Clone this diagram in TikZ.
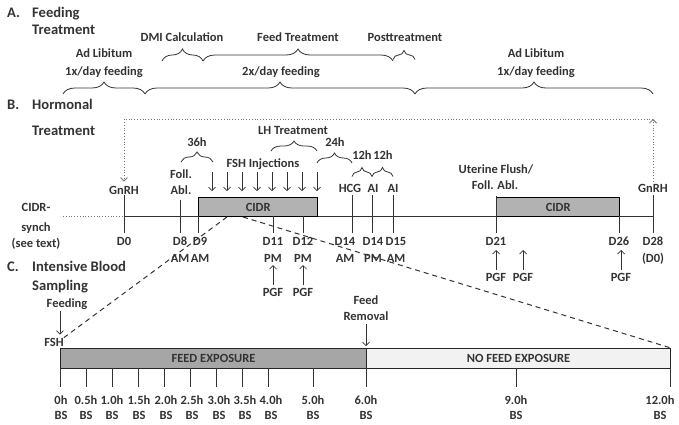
\documentclass[tikz,border=0pt]{standalone}
\usepackage{fontspec}
\setmainfont{Carlito}
\usepackage{tikz}
\usetikzlibrary{arrows.meta, decorations.pathreplacing, calc}

\begin{document}
\begin{tikzpicture}[x=1pt,y=-1pt]
\tikzset{txt/.style={font=\bfseries\fontsize{12.5}{14}\selectfont,text=black!80,inner sep=0pt,anchor=base},
         headtxt/.style={font=\bfseries\fontsize{14.6}{17}\selectfont,text=black!80,inner sep=0pt,anchor=base west},
         bracefeed/.style={decorate,decoration={brace,amplitude=12pt},line width=0.8pt,color=black!80},
         bracehorm/.style={decorate,decoration={brace,amplitude=10pt},line width=0.8pt,color=black!80},
         dayline/.style={line width=0.8pt,color=black!80},
         cidrbox/.style={draw=black,line width=1.4pt,fill=black!30,minimum height=19pt,anchor=north west,
                         inner sep=0pt,font=\bfseries\fontsize{12.5}{14}\selectfont,text=black!80},
         barbox/.style={draw=black!85,line width=1pt,minimum height=20pt,anchor=north west,
                        inner sep=0pt,font=\bfseries\fontsize{12.5}{14}\selectfont,text=black!80},
         injarrow/.style={-{Straight Barb[length=3.5pt,width=7pt]},line width=0.7pt,color=black!80},
         loopline/.style={dotted,line width=0.8pt,color=black!55},
         zoomline/.style={line width=1pt,color=black!80,dash pattern=on 5pt off 4pt}}
\useasboundingbox (0,0) rectangle (679,424);
% A. Feeding treatment
\node[headtxt] (hA) at (7,17) {A.};
\node[headtxt] (hAa) at (32,17) {Feeding};
\node[headtxt] (hAb) at (32,34) {Treatment};
% upper braces
\draw[bracefeed] (162,61) -- (203,61);
\draw[bracefeed] (203,61) -- (393,61);
\draw[bracefeed,decoration={amplitude=9pt}] (393,59.5) -- (415,59.5);
\node[txt] (dmi) at (182,41) {DMI Calculation};
\node[txt] (feedtrt) at (298,41) {Feed Treatment};
\node[txt] (posttrt) at (405,41) {Posttreatment};
% lower braces
\draw[bracefeed] (63,94) -- (145,94);
\draw[bracefeed] (145,94) -- (415,94);
\draw[bracefeed] (415,94) -- (653,94);
\node[txt] (adlibA) at (104,57) {Ad Libitum};
\node[txt] (onexA) at (104,75) {1x/day feeding};
\node[txt] (twox) at (281,75) {2x/day feeding};
\node[txt] (adlibB) at (536,57) {Ad Libitum};
\node[txt] (onexB) at (536,75) {1x/day feeding};

% B. Hormonal treatment
\node[headtxt] (hB) at (7,109) {B.};
\node[headtxt] (hBa) at (32,109) {Hormonal};
\node[headtxt] (hBb) at (32,135) {Treatment};
\node[txt] (synchA) at (36,211) {CIDR-};
\node[txt] (synchB) at (36,231) {synch};
\node[txt] (synchC) at (36,247) {(see text)};
% timeline
\coordinate (synch) at (63,216);
\coordinate (t0) at (124,216);
\coordinate (t28) at (653,216);
\draw[loopline] (synch) -- (t0);
\draw[dayline] (t0) -- (t28);
% CIDR boxes
\node[cidrbox,minimum width=119pt] (cidrA) at (198,197) {CIDR};
\node[cidrbox,minimum width=123pt] (cidrB) at (496,197) {CIDR};
% day ticks and labels
\foreach \x/\top in {124/195,180/200,198/216,273/216,303/216,352/195,372/195,393/195,496/196,619/216,653/195}
  \draw[dayline] (\x,\top) -- (\x,233);
\foreach \x/\d/\t [count=\i] in {124/D0/,180/D8/AM,200/D9/AM,273/D11/PM,303/D12/PM,345/D14/AM,373/D14/PM,396/D15/AM,496/D21/,619/D26/,653/D28/(D0)}{
  \node[txt] (day\i) at (\x,245) {\d};
  \node[txt] (ampm\i) at (\x,262) {\t};
}
% events above the line
\node[txt] (gnrhL) at (124,194) {GnRH};
\node[txt] (follL) at (181,178) {Foll.};
\node[txt] (ablL) at (181,194) {Abl.};
\node[txt] (hcg) at (350,192) {HCG};
\node[txt] (aiA) at (373,192) {AI};
\node[txt] (aiB) at (393,192) {AI};
\node[txt] (uflush) at (496,173) {Uterine Flush/};
\node[txt] (uabl) at (495,189) {Foll. Abl.};
\node[txt] (gnrhR) at (653,192) {GnRH};
% FSH injections
\node[txt] (fshinj) at (263,167) {FSH Injections};
\foreach \i in {0,...,7}
  \draw[injarrow] ({212+15*\i},172) -- ({212+15*\i},191);
% interval braces
\draw[bracehorm] (181,162) -- (213,162);
\draw[bracehorm] (271,151) -- (317,151);
\draw[bracehorm] (317,163) -- (352,163);
\draw[bracehorm,decoration={amplitude=9pt}] (352,176.5) -- (372,176.5);
\draw[bracehorm,decoration={amplitude=9pt}] (372,176.5) -- (393,176.5);
\node[txt] (h36) at (197,146) {36h};
\node[txt] (lh) at (293,134) {LH Treatment};
\node[txt] (h24) at (335,146) {24h};
\node[txt] (h12a) at (362,159) {12h};
\node[txt] (h12b) at (383,159) {12h};
% GnRH loop
\coordinate (loopR) at (653,119);
\coordinate (loopL) at (124,119);
\draw[loopline,-{Straight Barb[length=3.5pt,width=7pt]}] ([yshift=2pt]gnrhR.north) -- (loopR);
\draw[loopline,-{Straight Barb[length=3.5pt,width=7pt]}] (loopR) -- (loopL) -- ([yshift=4pt]gnrhL.north);
% PGF
\foreach \x [count=\i] in {273,303}{
  \node[txt] (pgfL\i) at (\x,296) {PGF};
  \draw[injarrow] ([yshift=3pt]pgfL\i.north) -- (\x,265);
}
\foreach \x [count=\i] in {496,523,621}{
  \node[txt] (pgfR\i) at (\x,281) {PGF};
  \draw[injarrow] ([yshift=3pt]pgfR\i.north) -- (\x,250);
}

% C. Intensive blood sampling
\node[headtxt] (hC) at (7,271) {C.};
\node[headtxt] (hCa) at (32,271) {Intensive Blood};
\node[headtxt] (hCb) at (32,290) {Sampling};
\node[barbox,fill=black!35,minimum width=306pt] (feedbar) at (60,348) {FEED EXPOSURE};
\node[barbox,fill=black!5,minimum width=304pt] (nofeedbar) at (366,348) {NO FEED EXPOSURE};
\node[txt] (feeding) at (67,307) {Feeding};
\node[txt] (fshC) at (54,346) {FSH};
\draw[injarrow] ([yshift=-2pt]feeding.south -| feedbar.west) -- ([yshift=3pt]fshC.north -| feedbar.west);
\node[txt] (feedrm) at (366,304) {Feed};
\node[txt] (removal) at (366,320) {Removal};
\draw[injarrow] ([yshift=-4pt]removal.south) -- ([yshift=2pt]nofeedbar.north west);
% sampling ticks
\foreach \x/\lx/\t [count=\i] in {60/61/0h,86/86/0.5h,112/112/1.0h,138/139/1.5h,164/166/2.0h,190/192/2.5h,216/219/3.0h,242/245/3.5h,268/271/4.0h,313/313/5.0h,366/366/6.0h,516/516/9.0h,670/660/12.0h}{
  \draw[dayline] (\x,368) -- (\x,387);
  \node[txt] (tm\i) at (\lx,404) {\t};
  \node[txt] (bs\i) at (\lx,419) {BS};
}
% zoom lines
\coordinate (fshAM) at (227,217);
\coordinate (fshPM) at (243,217);
\draw[zoomline] (fshAM) -- (fshC.north east);
\draw[zoomline] (fshPM) -- (nofeedbar.north east);
\end{tikzpicture}
\end{document}
